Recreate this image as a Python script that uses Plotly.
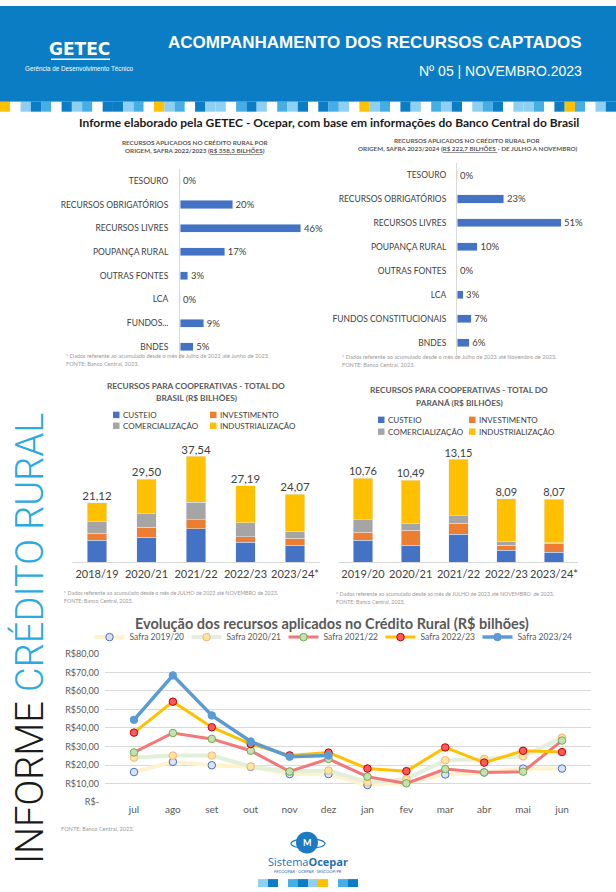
import plotly.graph_objects as go

W, H = 616, 892
def px(x): return x / W
def py(y): return 1 - y / H

# ---------------- DATA ----------------
orig_cats_2223 = ["TESOURO", "RECURSOS OBRIGATÓRIOS", "RECURSOS LIVRES", "POUPANÇA RURAL",
                  "OUTRAS FONTES", "LCA", "FUNDOS...", "BNDES"]
orig_vals_2223 = [0, 20, 46, 17, 3, 0, 9, 5]
orig_cats_2324 = ["TESOURO", "RECURSOS OBRIGATÓRIOS", "RECURSOS LIVRES", "POUPANÇA RURAL",
                  "OUTRAS FONTES", "LCA", "FUNDOS CONSTITUCIONAIS", "BNDES"]
orig_vals_2324 = [0, 23, 51, 10, 0, 3, 7, 6]

br_safras = ["2018/19", "2020/21", "2021/22", "2022/23", "2023/24*"]
br_custeio = [7.7, 8.8, 11.9, 7.0, 6.0]
br_invest = [2.5, 3.5, 3.1, 2.0, 2.4]
br_comerc = [4.2, 4.9, 6.3, 4.9, 2.5]
br_indust = [6.72, 12.3, 16.24, 13.29, 13.17]

pr_safras = ["2019/20", "2020/21", "2021/22", "2022/23", "2023/24*"]
pr_custeio = [2.8, 2.15, 3.55, 1.5, 1.25]
pr_invest = [1.0, 1.9, 1.4, 0.65, 1.15]
pr_comerc = [1.6, 0.9, 1.0, 0.5, 0.1]
pr_indust = [5.36, 5.54, 7.2, 5.44, 5.57]

months = ["jul", "ago", "set", "out", "nov", "dez", "jan", "fev", "mar", "abr", "mai", "jun"]
safra_1920 = [16.2, 21.7, 19.9, 19.0, 15.1, 15.1, 9.2, 10.5, 14.9, 16.0, 18.1, 18.1]
safra_2021 = [24.0, 25.1, 25.1, 19.2, 16.5, 17.0, 10.7, 12.4, 22.6, 23.3, 24.7, 34.8]
safra_2122 = [26.8, 37.3, 34.1, 27.7, 16.5, 23.3, 13.7, 10.1, 17.8, 16.0, 16.4, 33.2]
safra_2223 = [37.5, 54.2, 40.4, 31.3, 25.2, 26.7, 18.1, 16.7, 29.5, 21.3, 27.7, 27.0]
safra_2324 = [44.4, 68.4, 46.8, 32.7, 24.5, 25.1, None, None, None, None, None, None]

y_ticks = [0, 10, 20, 30, 40, 50, 60, 70, 80]
y_ticktext = ["R$-", "R$10,00", "R$20,00", "R$30,00", "R$40,00", "R$50,00", "R$60,00", "R$70,00", "R$80,00"]

# ---------------- STYLE ----------------
FONT = "Lato, Open Sans, sans-serif"
DARK = "#404040"
GREY = "#595959"
C_CUST, C_INV, C_COM, C_IND = "#4472C4", "#ED7D31", "#A5A5A5", "#FFC000"

fig = go.Figure()

# top-left horizontal bars
fig.add_trace(go.Bar(x=orig_vals_2223, y=orig_cats_2223, orientation="h", width=0.34,
                     marker_color="#4472C4", text=[f"{v}%" for v in orig_vals_2223],
                     textposition="outside", constraintext="none",
                     textfont=dict(size=9.5, color=DARK, family=FONT),
                     cliponaxis=False, xaxis="x", yaxis="y", showlegend=False))
# top-right horizontal bars
fig.add_trace(go.Bar(x=orig_vals_2324, y=orig_cats_2324, orientation="h", width=0.34,
                     marker_color="#4472C4", text=[f"{v}%" for v in orig_vals_2324],
                     textposition="outside", constraintext="none",
                     textfont=dict(size=9.5, color=DARK, family=FONT),
                     cliponaxis=False, xaxis="x2", yaxis="y2", showlegend=False))

# stacked bars Brasil
for vals, col in [(br_custeio, C_CUST), (br_invest, C_INV), (br_comerc, C_COM), (br_indust, C_IND)]:
    fig.add_trace(go.Bar(x=br_safras, y=vals, marker_color=col, width=0.4,
                         xaxis="x3", yaxis="y3", showlegend=False))
# stacked bars Paraná
for vals, col in [(pr_custeio, C_CUST), (pr_invest, C_INV), (pr_comerc, C_COM), (pr_indust, C_IND)]:
    fig.add_trace(go.Bar(x=pr_safras, y=vals, marker_color=col, width=0.4,
                         xaxis="x4", yaxis="y4", showlegend=False))

br_tot = [round(a + b + c + d, 2) for a, b, c, d in zip(br_custeio, br_invest, br_comerc, br_indust)]
pr_tot = [round(a + b + c + d, 2) for a, b, c, d in zip(pr_custeio, pr_invest, pr_comerc, pr_indust)]
fmt = lambda v: f"{v:.2f}".replace(".", ",")
fig.add_trace(go.Scatter(x=br_safras, y=br_tot, mode="text", text=[fmt(v) for v in br_tot],
                         textposition="top center", textfont=dict(size=11.5, color=DARK, family=FONT),
                         xaxis="x3", yaxis="y3", showlegend=False, cliponaxis=False))
fig.add_trace(go.Scatter(x=pr_safras, y=pr_tot, mode="text", text=[fmt(v) for v in pr_tot],
                         textposition="top center", textfont=dict(size=11, color=DARK, family=FONT),
                         xaxis="x4", yaxis="y4", showlegend=False, cliponaxis=False))

# line chart
line_series = [
    ("Safra 2019/20", safra_1920, "#FFF2CC", 4, "#DAE3F3", "#4472C4"),
    ("Safra 2020/21", safra_2021, "#E2EFDA", 4, "#FFE699", "#F4B183"),
    ("Safra 2021/22", safra_2122, "#F4777A", 3, "#C5E0B4", "#70AD47"),
    ("Safra 2022/23", safra_2223, "#FFC000", 3, "#FF5A5A", "#C00000"),
    ("Safra 2023/24", safra_2324, "#5B9BD5", 3.5, "#5B9BD5", "#5B9BD5"),
]
for name, vals, lc, lw, mf, me in line_series:
    fig.add_trace(go.Scatter(x=months, y=vals, name=name, mode="lines+markers",
                             line=dict(color=lc, width=lw),
                             marker=dict(size=7.5, color=mf, line=dict(color=me, width=1)),
                             xaxis="x5", yaxis="y5", cliponaxis=False))

# ---------------- AXES ----------------
cat_font = dict(size=8.5, color=DARK, family=FONT)
layout_axes = dict(
    xaxis=dict(domain=[px(180), px(180 + 2.63 * 50)], range=[0, 50], visible=False, anchor="y"),
    yaxis=dict(domain=[py(357), py(165)], type="category", autorange="reversed", anchor="x",
               showline=True, linecolor="#D9D9D9", ticks="", showgrid=False,
               tickfont=cat_font, ticklabelstandoff=9),
    xaxis2=dict(domain=[px(457), px(457 + 2.04 * 55)], range=[0, 55], visible=False, anchor="y2"),
    yaxis2=dict(domain=[py(353), py(159)], type="category", autorange="reversed", anchor="x2",
                showline=True, linecolor="#D9D9D9", ticks="", showgrid=False,
                tickfont=cat_font, ticklabelstandoff=8),
    xaxis3=dict(domain=[px(72.25), px(319.75)], anchor="y3", showline=True, linecolor="#D9D9D9",
                ticks="", tickangle=0, tickfont=dict(size=11, color=DARK, family=FONT), ticklabelstandoff=2),
    yaxis3=dict(domain=[py(563), py(563 - 45 * 2.85)], range=[0, 45], visible=False, anchor="x3"),
    xaxis4=dict(domain=[px(339.1), px(577.9)], anchor="y4", showline=True, linecolor="#D9D9D9",
                ticks="", tickangle=0, tickfont=dict(size=11, color=DARK, family=FONT), ticklabelstandoff=2),
    yaxis4=dict(domain=[py(563), py(563 - 16 * 7.9)], range=[0, 16], visible=False, anchor="x4"),
    xaxis5=dict(domain=[px(105), px(591)], anchor="y5", ticks="", showgrid=False, showline=False,
                tickangle=0, tickfont=dict(size=10, color=GREY, family=FONT)),
    yaxis5=dict(domain=[py(806), py(656)], range=[0, 80], anchor="x5", tickvals=y_ticks,
                ticktext=y_ticktext, gridcolor="#D9D9D9", zeroline=False, showline=False,
                tickfont=dict(size=9, color=GREY, family=FONT), ticks="", ticklabelstandoff=5),
)

# ---------------- DECORATION ----------------
shapes = []
shapes.append(dict(type="rect", xref="paper", yref="paper", x0=0, x1=1, y0=py(97), y1=1,
                   fillcolor="#0A7DC4", line_width=0, layer="below"))
strip = ("YwLBMwBLMwBBLMw" "YLMwBLLwMBLwMLB" "wBMLwYLMwBLwMLB" "wLMBwLLMwBYMwLB")
cmap = {"Y": "#FFC000", "w": "#FFFFFF", "L": "#8FD0F2", "B": "#0A7DC4", "M": "#45AEE5"}
bw = W / len(strip)
for i, ch in enumerate(strip):
    shapes.append(dict(type="rect", xref="paper", yref="paper", x0=px(i * bw), x1=px((i + 1) * bw),
                       y0=py(107), y1=py(97), fillcolor=cmap[ch], line_width=0, layer="below"))
# GETEC underline
shapes.append(dict(type="line", xref="paper", yref="paper", x0=px(51), x1=px(110), y0=py(54), y1=py(54),
                   line=dict(color="white", width=1.5)))
def sq(x, y, col):
    shapes.append(dict(type="rect", xref="paper", yref="paper", x0=px(x), x1=px(x + 6.5),
                       y0=py(y + 3.25), y1=py(y - 3.25), fillcolor=col, line_width=0))
# footer logo
shapes.append(dict(type="circle", xref="paper", yref="paper", x0=px(296), x1=px(318), y0=py(858), y1=py(836),
                   fillcolor="#1F7BC1", line_width=0))
shapes.append(dict(type="circle", xref="paper", yref="paper", x0=px(291), x1=px(325), y0=py(853), y1=py(843),
                   line=dict(color="#1F7BC1", width=1.2)))
fstrip = "LBwMBLYwMB"
for i, ch in enumerate(fstrip):
    shapes.append(dict(type="rect", xref="paper", yref="paper", x0=px(258 + i * 10), x1=px(268 + i * 10),
                       y0=py(892), y1=py(884), fillcolor=cmap[ch], line_width=0))

ann = []
def txt(x, y, t, size, color=DARK, bold=False, xanchor="center", family=FONT, **kw):
    ann.append(dict(x=px(x), y=py(y), xref="paper", yref="paper", text=(f"<b>{t}</b>" if bold else t),
                    showarrow=False, xanchor=xanchor, yanchor="middle",
                    font=dict(size=size, color=color, family=family), **kw))

NARROW = "Liberation Sans, Arial, sans-serif"
txt(584, 37, "ACOMPANHAMENTO DOS RECURSOS CAPTADOS", 17, "white", True, "right", NARROW)
txt(584, 66, "Nº 05 | NOVEMBRO.2023", 14, "white", False, "right", NARROW)
txt(80, 44, "GETEC", 17, "white", True, "center", "DejaVu Sans, sans-serif")
txt(80, 63, "Gerência de Desenvolvimento Técnico", 6.3, "white", False, "center", NARROW)

txt(329, 118, "Informe elaborado pela GETEC - Ocepar, com base em informações do Banco Central do Brasil",
    12, "#1A1A1A", True)

# top chart titles
txt(195, 138, "RECURSOS APLICADOS NO CRÉDITO RURAL POR", 6.3, GREY, True)
txt(195, 146, "ORIGEM, SAFRA 2022/2023 (<u>R$ 358,3 BILHÕES</u>)", 6.3, GREY, True)
txt(467, 136, "RECURSOS APLICADOS NO CRÉDITO RURAL POR", 6.3, GREY, True)
txt(467, 144, "ORIGEM, SAFRA 2023/2024 (<u>R$ 222,7 BILHÕES </u>- DE JULHO A NOVEMBRO)", 6.3, GREY, True)

FN = "#9A9A9A"
txt(64, 354, "* Dados referente ao acumulado desde o mês de Julho de 2022 até Junho de 2023.", 5.6, FN, False, "left")
txt(64, 362, "FONTE: Banco Central, 2023.", 5.6, FN, False, "left")
txt(340, 355, "* Dados referente ao acumulado desde o mês de Julho de 2023 até Novembro de 2023.", 5.6, FN, False, "left")
txt(340, 363, "FONTE: Banco Central, 2023.", 5.6, FN, False, "left")

# middle chart titles
txt(196, 385, "RECURSOS PARA COOPERATIVAS - TOTAL DO", 8.3, GREY, True)
txt(196, 397, "BRASIL (R$ BILHÕES)", 8.3, GREY, True)
txt(459, 389, "RECURSOS PARA COOPERATIVAS - TOTAL DO", 8.3, GREY, True)
txt(459, 402, "PARANÁ (R$ BILHÕES)", 8.3, GREY, True)

leg_items = [("CUSTEIO", C_CUST), ("INVESTIMENTO", C_INV), ("COMERCIALIZAÇÃO", C_COM), ("INDUSTRIALIZAÇÃO", C_IND)]
for (lx1, lx2, ly1, ly2) in [(113, 210, 414, 425), (378, 469, 419, 431)]:
    pos = [(lx1, ly1), (lx2, ly1), (lx1, ly2), (lx2, ly2)]
    for (name, col), (x, y) in zip(leg_items, pos):
        sq(x, y, col)
        txt(x + 8, y, name, 8, DARK, False, "left")

txt(62, 594, "* Dados referente ao acumulado desde o mês de JULHO de 2023 até NOVEMBRO de 2023.", 5.3, FN, False, "left")
txt(62, 602, "FONTE: Banco Central, 2023.", 5.3, FN, False, "left")
txt(334, 595, "* Dados referente ao acumulado desde ao mês de JULHO de 2023 até NOVEMBRO  de 2023.", 5.3, FN, False, "left")
txt(334, 603, "FONTE: Banco Central, 2023.", 5.3, FN, False, "left")

# line chart title & source
txt(332, 625, "Evolução dos recursos aplicados no Crédito Rural (R$ bilhões)", 14.5, GREY, True)
txt(59, 833, "FONTE: Banco Central, 2023.", 5.6, FN, False, "left")

# footer text
txt(308, 866, "Sistema<b>Ocepar</b>", 11, "#1F6FB5", False, "center", "Open Sans, sans-serif")
txt(308, 876, "FECOOPAR · OCEPAR · SESCOOP/PR", 4, "#1F6FB5", False)
txt(307, 847, "<b>M</b>", 9, "white", False)

# vertical title
ann.append(dict(x=px(29), y=py(641), xref="paper", yref="paper", textangle=-90, showarrow=False,
                text="INFORME <span style='color:#29ABE2'>CRÉDITO RURAL</span>",
                font=dict(size=38, color="#1A1A1A", family="Roboto, Liberation Sans, sans-serif", weight=300),
                xanchor="center", yanchor="middle"))

fig.update_layout(
    width=W, height=H, margin=dict(l=0, r=0, t=0, b=0),
    paper_bgcolor="white", plot_bgcolor="white",
    barmode="stack", bargap=0.2,
    font=dict(family=FONT, color=DARK),
    shapes=shapes, annotations=ann,
    legend=dict(orientation="h", x=px(332), xanchor="center", y=py(639), yanchor="middle",
                traceorder="normal",
                font=dict(size=8.5, color=GREY, family=FONT), itemwidth=30,
                entrywidth=52, bgcolor="rgba(0,0,0,0)"),
    **layout_axes,
)

fig.write_html("out.html", config={"displayModeBar": False},
               post_script="document.body.style.margin='0';document.body.style.overflow='hidden';")
